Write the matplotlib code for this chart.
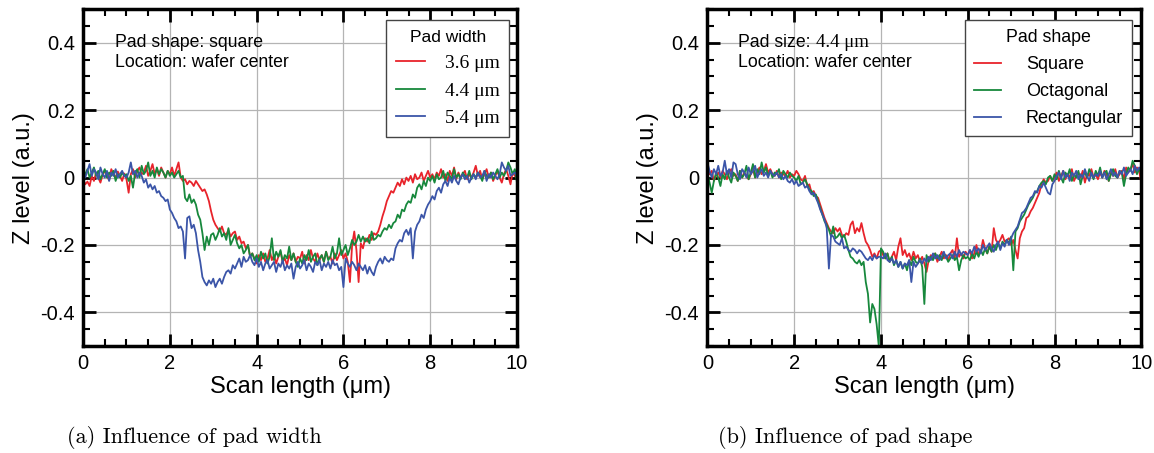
#%% import
import numpy as np
import matplotlib.pyplot as plt
from matplotlib.ticker import MultipleLocator

plt.rcParams['font.family'] = ['Liberation Sans', 'DejaVu Sans']
plt.rcParams['axes.unicode_minus'] = False

#%% donnees (Z level en milli a.u., pas de 0.05 um sur 10 um)
scan_x = np.linspace(0, 10, 201)

# (a) influence de la largeur du pad
w36 = [-5, -20, -12, -25, 5, -10, 15, 0, -15, 8, 20, 5, -8, 25, 10, 0, 18, 5, -10, 12,
       -5, -45, 10, 25, 0, 20, 30, 10, 15, 35, 5, 20, 40, 10, 25, 5, 30, 15, 0, 20,
       10, 30, 5, 25, 45, 0, -10, -5, -20, -10, -15, -25, -10, -20, -30, -40, -35, -50, -70, -100,
       -125, -140, -150, -160, -145, -165, -170, -155, -175, -165, -160, -185, -175, -195, -190, -210, -200, -235, -225, -240,
       -255, -230, -245, -225, -250, -240, -215, -245, -230, -255, -235, -220, -250, -240, -260, -230, -245, -225, -250, -235,
       -240, -220, -255, -230, -245, -215, -240, -250, -225, -245, -230, -250, -220, -240, -235, -255, -225, -245, -230, -215,
       -240, -225, -250, -310, -200, -160, -215, -310, -195, -210, -180, -190, -170, -185, -165, -170, -160, -140, -115, -95,
       -70, -55, -40, -45, -30, -15, -25, -5, -20, 0, -10, 5, -15, 10, -5, 0, 15, -10, 5, 20,
       0, 10, -5, 15, 5, 25, 0, 10, -10, 20, 5, 30, -5, 15, 0, 10, 20, -5, 10, 0,
       15, 35, 5, 20, -5, 10, 25, 0, 15, -10, 5, 20, 0, -15, 10, 25, 5, -20, 15, 5,
       0]
w44 = [20, 10, 25, 0, 15, 30, 5, 20, -5, 10, 25, 0, 15, 5, 20, -10, 10, 0, 15, 5,
       10, -10, 5, -30, 15, 25, 0, 35, 10, 20, 45, 5, 20, 0, 30, 10, 25, 15, 0, 20,
       5, 15, 0, 10, 20, 0, 5, -60, -70, -50, -75, -65, -80, -110, -125, -165, -215, -175, -200, -170,
       -165, -185, -170, -150, -175, -165, -185, -150, -200, -185, -170, -195, -210, -200, -225, -215, -200, -235, -225, -245,
       -230, -250, -220, -240, -225, -255, -235, -180, -245, -220, -235, -215, -250, -230, -240, -205, -245, -225, -250, -265,
       -240, -255, -230, -245, -215, -250, -235, -225, -260, -240, -230, -250, -220, -245, -235, -205, -240, -225, -180, -230,
       -215, -200, -230, -210, -185, -200, -190, -170, -190, -175, -190, -180, -195, -160, -185, -180, -170, -175, -160, -150,
       -155, -140, -150, -135, -130, -110, -120, -95, -100, -80, -70, -75, -50, -60, -30, -20, -35, -10, -25, 0,
       -10, 5, -15, 10, -5, 0, 20, -10, 15, 5, -5, 25, 0, 10, -5, 15, 5, 0, 20, -5,
       10, 0, 15, 5, -10, 20, 5, 0, 15, -5, 10, 25, 0, 15, 5, 20, 45, 30, 10, 25,
       -15]
w54 = [10, 0, 20, 40, 5, 25, 15, -5, 30, 10, 0, 20, -10, 15, 5, 25, 0, 10, 20, 5,
       0, 15, 45, 10, 20, 0, 15, 5, -15, -5, -30, -20, -35, -25, -45, -40, -55, -60, -70, -65,
       -95, -105, -120, -130, -150, -145, -160, -240, -120, -115, -150, -140, -165, -215, -250, -295, -310, -320, -305, -315,
       -300, -325, -310, -300, -315, -295, -280, -275, -285, -260, -270, -255, -240, -265, -235, -250, -245, -230, -250, -260,
       -240, -265, -250, -275, -255, -245, -270, -260, -250, -280, -255, -265, -245, -275, -260, -270, -255, -300, -265, -250,
       -270, -260, -245, -275, -255, -265, -280, -250, -260, -245, -275, -255, -265, -250, -270, -245, -260, -255, -275, -265,
       -325, -240, -255, -265, -250, -260, -275, -255, -265, -275, -260, -285, -265, -280, -290, -265, -250, -240, -255, -235,
       -245, -250, -240, -245, -210, -195, -185, -190, -165, -155, -170, -150, -240, -160, -140, -130, -110, -120, -95, -80,
       -70, -55, -65, -40, -30, -45, -20, -10, -25, 0, -15, 5, -10, -20, 0, 10, -5, 5, -15, 0,
       10, -5, 15, 0, 5, 20, -10, 10, 0, 15, 5, -5, 10, 45, 30, 20, 35, 5, 10, 15,
       5]

# (b) influence de la forme du pad
square = [30, 10, 20, -10, 5, 15, 0, 20, 10, -5, 15, 25, 5, 10, -10, 20, 0, 15, 5, -5,
          10, 25, 0, 15, 30, 10, 20, 40, 15, 25, 10, 5, 20, 0, 15, 10, 5, 20, 0, 10,
          5, 20, 10, -5, -10, 5, -25, -20, -45, -40, -55, -60, -80, -100, -120, -135, -150, -160, -165, -150,
          -160, -150, -170, -175, -165, -170, -140, -130, -165, -150, -160, -135, -165, -190, -200, -215, -235, -225, -240, -220,
          -215, -230, -240, -225, -250, -235, -220, -245, -205, -180, -230, -215, -235, -225, -245, -220, -240, -230, -250, -235,
          -255, -280, -245, -230, -240, -225, -250, -235, -220, -240, -230, -245, -225, -215, -240, -180, -235, -225, -240, -220,
          -230, -215, -240, -225, -200, -230, -220, -185, -210, -225, -200, -220, -150, -185, -195, -185, -170, -190, -185, -180,
          -200, -185, -215, -240, -180, -160, -150, -120, -115, -100, -90, -75, -60, -45, -20, -5, -15, -10, 5, -10,
          0, 15, -10, 5, 20, -5, 10, 0, 25, -10, 5, 15, 0, 20, -15, 10, 5, 25, 0, 10,
          -5, 15, 0, 20, 10, -10, 15, 5, 25, 0, 10, 20, -5, 30, 15, 25, 40, 15, 30, 20,
          -15]
octagonal = [10, -15, -45, -10, 15, 0, -25, 10, -5, 20, 0, -15, 15, 5, -10, 20, 0, 10, 35, -5,
             15, 40, 0, 25, 10, 45, 15, 30, 5, 20, 0, 15, 10, 25, -5, 20, 10, 0, 15, 5,
             0, -10, 5, -20, -15, -5, -20, -35, -40, -55, -50, -70, -90, -110, -130, -140, -155, -175, -145, -180,
             -175, -165, -180, -170, -190, -215, -235, -240, -250, -255, -245, -260, -250, -310, -345, -430, -375, -390, -435, -500,
             -210, -220, -240, -225, -250, -235, -260, -245, -265, -250, -270, -255, -275, -245, -260, -235, -250, -255, -240, -265,
             -375, -230, -250, -235, -245, -225, -240, -230, -245, -225, -235, -250, -240, -230, -245, -235, -275, -245, -230, -240,
             -235, -245, -225, -240, -220, -235, -215, -230, -210, -225, -205, -220, -200, -215, -195, -210, -190, -200, -185, -195,
             -175, -275, -160, -150, -130, -120, -110, -95, -80, -70, -60, -45, -40, -25, -15, -10, -20, 0, 5, -10,
             10, -5, 20, 0, -15, 15, 5, 25, -10, 10, 0, 20, -20, 5, 15, 0, 25, 10, -5, 20,
             5, 30, 0, 15, 20, -10, 10, 25, 5, 0, 20, 15, -25, 10, 30, 20, 50, 35, 10, 25,
             15]
rectangular = [45, 20, 0, 25, 10, 35, 5, 15, 50, 10, 25, 0, 45, 40, 10, -5, 25, 15, 0, 30,
               10, 20, 35, 0, 15, 25, 5, 15, 0, 20, 10, 5, 15, 0, 10, -5, 5, -10, -15, -5,
               -20, -10, -25, -20, -15, -30, -25, -40, -50, -45, -60, -75, -95, -110, -125, -150, -270, -170, -175, -190,
               -195, -200, -180, -210, -205, -215, -220, -210, -215, -225, -215, -220, -230, -240, -245, -235, -245, -230, -240, -235,
               -235, -240, -225, -245, -250, -240, -255, -245, -265, -250, -270, -255, -260, -245, -310, -250, -265, -255, -245, -255,
               -240, -250, -235, -245, -225, -240, -230, -245, -235, -220, -240, -230, -225, -240, -220, -235, -215, -230, -220, -225,
               -230, -215, -225, -205, -220, -210, -225, -200, -215, -205, -195, -210, -220, -200, -190, -215, -195, -205, -185, -200,
               -180, -165, -155, -145, -125, -105, -100, -90, -75, -60, -55, -40, -45, -25, -30, -15, -30, -45, -50, -20,
               -10, 5, 15, -5, 20, 0, 10, -10, 15, 5, 20, -5, 10, 0, 25, 5, -10, 15, 0, 10,
               5, 20, 0, 15, -5, 10, 25, 5, 15, 0, 20, 10, 30, 5, 15, 25, 10, 35, 20, 30,
               20]

labels_a = ['3.6 μm', '4.4 μm', '5.4 μm']
labels_b = ['Square', 'Octagonal', 'Rectangular']
couleurs = ['#e8232b', '#17883c', '#3b55a8']
xticks = [0, 2, 4, 6, 8, 10]
yticks = [-0.4, -0.2, 0, 0.2, 0.4]
yticklabels = ['-0.4', '-0.2', '0', '0.2', '0.4']

#%% trace
fig = plt.figure(figsize=(11.54, 4.53), dpi=100)
axa = fig.add_axes([0.072, 0.236, 0.376, 0.744])
axb = fig.add_axes([0.613, 0.236, 0.376, 0.744])


def mise_en_forme(ax):
    ax.set_xlim(0, 10)
    ax.set_ylim(-0.5, 0.5)
    ax.set_xticks(xticks)
    ax.set_xticklabels([str(t) for t in xticks])
    ax.set_yticks(yticks)
    ax.set_yticklabels(yticklabels)
    ax.xaxis.set_minor_locator(MultipleLocator(0.5))
    ax.yaxis.set_minor_locator(MultipleLocator(0.05))
    ax.tick_params(which='both', direction='in', top=True, right=True, labelsize=14.5, pad=6)
    ax.tick_params(which='major', length=9, width=2)
    ax.tick_params(which='minor', length=5, width=1.5)
    for s in ax.spines.values():
        s.set_linewidth(2.5)
    ax.grid(True, color='#b4b4b4', linewidth=0.9)
    ax.set_axisbelow(True)
    ax.set_xlabel('Scan length (μm)', fontsize=17, labelpad=2)
    ax.set_ylabel('Z level (a.u.)', fontsize=17, labelpad=4)


for serie, lab, c in zip([w36, w44, w54], labels_a, couleurs):
    axa.plot(scan_x, np.array(serie) / 1000, color=c, lw=1.3, label=lab)
for serie, lab, c in zip([square, octagonal, rectangular], labels_b, couleurs):
    axb.plot(scan_x, np.array(serie) / 1000, color=c, lw=1.3, label=lab)

mise_en_forme(axa)
mise_en_forme(axb)

axa.text(0.074, 0.90, 'Pad shape: square', transform=axa.transAxes, fontsize=12.7, va='center')
axa.text(0.074, 0.84, 'Location: wafer center', transform=axa.transAxes, fontsize=12.7, va='center')
t1 = axb.text(0.071, 0.90, 'Pad size:', transform=axb.transAxes, fontsize=12.7, va='center')
axb.annotate('4.4 μm', xy=(1, 0.5), xycoords=t1, xytext=(4, 0), textcoords='offset points',
             fontsize=13.5, va='center', family='Liberation Serif')
axb.text(0.071, 0.84, 'Location: wafer center', transform=axb.transAxes, fontsize=12.7, va='center')

leg_a = axa.legend(title='Pad width', loc='upper right', bbox_to_anchor=(0.982, 0.967),
                   borderaxespad=0,
                   prop={'family': 'Liberation Serif', 'size': 14},
                   title_fontproperties={'family': 'Liberation Sans', 'size': 12.5},
                   fancybox=False, edgecolor='#444444', framealpha=1, handlelength=1.5,
                   handletextpad=1.0, borderpad=0.5, labelspacing=0.5)
leg_b = axb.legend(title='Pad shape', loc='upper right', bbox_to_anchor=(0.979, 0.967),
                   borderaxespad=0,
                   prop={'family': 'Liberation Sans', 'size': 13},
                   title_fontproperties={'family': 'Liberation Sans', 'size': 12.8},
                   fancybox=False, edgecolor='#444444', framealpha=1, handlelength=1.5,
                   handletextpad=1.4, borderpad=0.5, labelspacing=0.55)
for leg in (leg_a, leg_b):
    leg.get_frame().set_linewidth(1.0)

fig.text(0.058, 0.035, '(a) Influence of pad width', family='cmr10', fontsize=16, va='center')
fig.text(0.622, 0.035, '(b) Influence of pad shape', family='cmr10', fontsize=16, va='center')

fig.savefig('out.png', dpi=100)
